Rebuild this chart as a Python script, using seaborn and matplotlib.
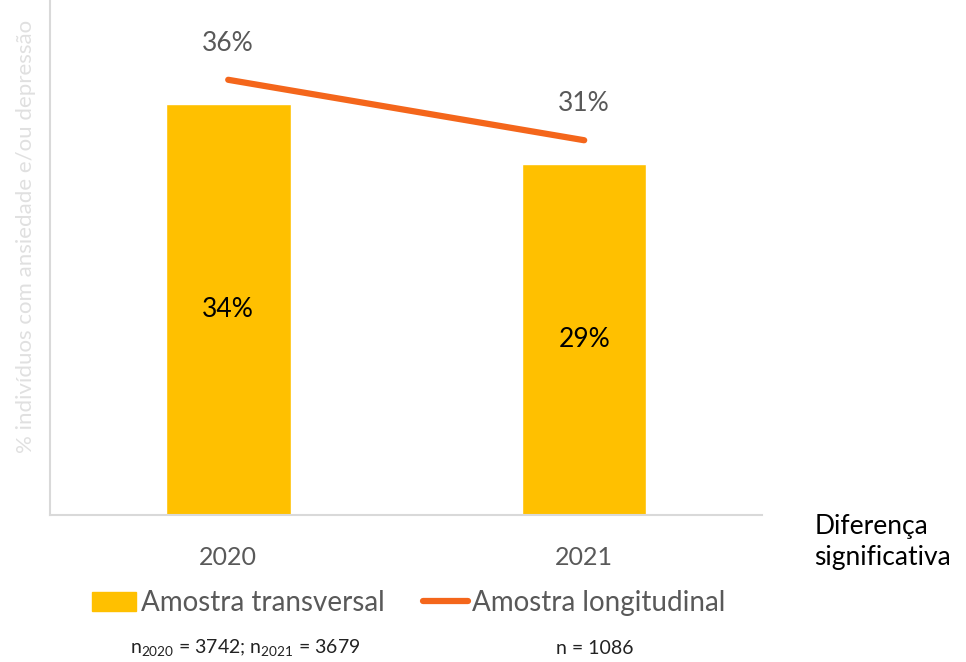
import matplotlib
matplotlib.use("Agg")
import matplotlib.pyplot as plt
import seaborn as sns
import pandas as pd
from matplotlib.patches import Patch
from matplotlib.lines import Line2D

# data
years = ["2020", "2021"]
transversal = [34, 29]
longitudinal = [36, 31]
n_transversal = "n$_{2020}$ = 3742; n$_{2021}$ = 3679"
n_longitudinal = "n = 1086"

bar_color = "#FFC000"
line_color = "#F4661B"
text_gray = "#595959"

sns.set_theme(style="white")
plt.rcParams["font.family"] = ["Lato", "DejaVu Sans"]
plt.rcParams["mathtext.fontset"] = "custom"
plt.rcParams["mathtext.rm"] = "Lato"

df = pd.DataFrame({"ano": years, "transversal": transversal, "longitudinal": longitudinal})

fig = plt.figure(figsize=(9.66, 6.62), dpi=100)
ax = fig.add_axes([0.052, 0.222, 0.737, 0.778])

sns.barplot(data=df, x="ano", y="transversal", color=bar_color, width=0.35,
            saturation=1, ax=ax)
sns.lineplot(data=df, x="ano", y="longitudinal", color=line_color, linewidth=4.5,
             sort=False, ax=ax)

ax.set_xlim(-0.5, 1.5)
ax.set_ylim(0, 42.6)
ax.set_yticks([])
ax.set_xlabel("")
ax.set_ylabel("% indivíduos com ansiedade e/ou depressão", color="#e0e0e0",
              fontsize=16)
ax.yaxis.set_label_coords(-0.02, 0.54)
ax.tick_params(axis="x", labelsize=18, labelcolor=text_gray, pad=22, length=0)

for s in ["top", "right"]:
    ax.spines[s].set_visible(False)
for s in ["left", "bottom"]:
    ax.spines[s].set_color("#d9d9d9")
    ax.spines[s].set_linewidth(1.5)

# bar labels inside bars
for i, v in enumerate(transversal):
    ax.text(i, v * 0.5, f"{v}%", ha="center", va="center", fontsize=19, color="black")
# line labels above line
for i, v in enumerate(longitudinal):
    ax.text(i, v + 3.0, f"{v}%", ha="center", va="center", fontsize=19, color=text_gray)

handles = [Patch(facecolor=bar_color, edgecolor=bar_color),
           Line2D([0], [0], color=line_color, linewidth=4.5)]
fig.legend(handles, ["Amostra transversal", "Amostra longitudinal"],
           loc="center", bbox_to_anchor=(0.423, 0.089), ncol=2, frameon=False,
           fontsize=20, labelcolor=text_gray, handlelength=1.6, handletextpad=0.15,
           columnspacing=1.4)

fig.text(0.254, 0.021, n_transversal, ha="center", va="center", fontsize=14, color="#222222")
fig.text(0.616, 0.021, n_longitudinal, ha="center", va="center", fontsize=14, color="#222222")
fig.text(0.843, 0.181, "Diferença\nsignificativa", ha="left", va="center",
         fontsize=19, color="black", linespacing=1.3)

fig.savefig("out.png", dpi=100)
plt.close(fig)
